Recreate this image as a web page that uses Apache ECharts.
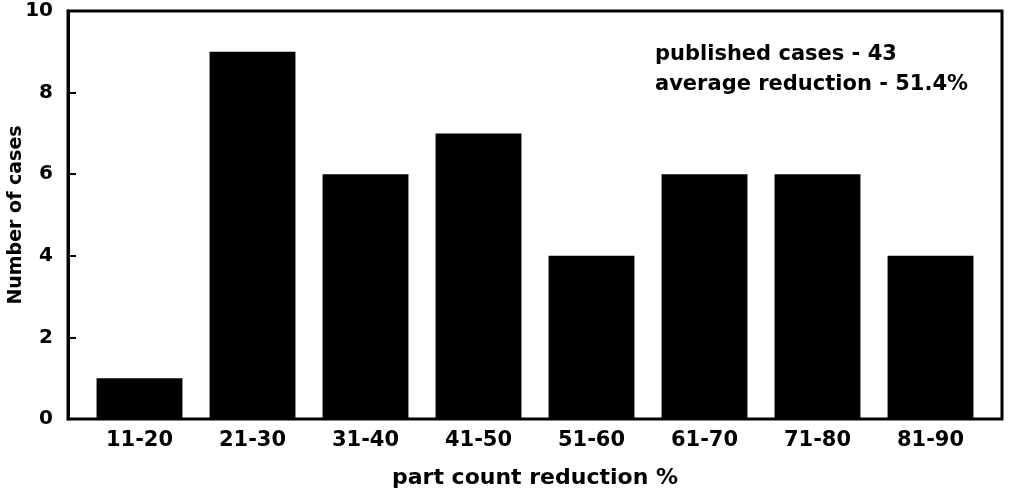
<!DOCTYPE html>
<html><head><meta charset="utf-8">
<script src="https://cdn.jsdelivr.net/npm/echarts@6/dist/echarts.min.js"></script>
<style>html,body{margin:0;padding:0;background:#fff}#c{width:1009px;height:498px}</style>
</head><body><div id="c"></div>
<script>
const categories = ['11-20','21-30','31-40','41-50','51-60','61-70','71-80','81-90'];
const cases = [1, 9, 6, 7, 4, 6, 6, 4];
const yTicks = [0, 2, 4, 6, 8, 10];
const noteLines = ['published cases - 43', 'average reduction - 51.4%'];

const font = '"DejaVu Sans", "Liberation Sans", Arial, sans-serif';
const chart = echarts.init(document.getElementById('c'));
chart.setOption({
  backgroundColor: '#fff',
  animation: false,
  grid: [
    {left: 68, right: 7, top: 11, bottom: 79, show: true, borderColor: '#000', borderWidth: 3,
     backgroundColor: 'transparent', containLabel: false, outerBoundsMode: 'none'},
    {left: 83, right: 22, top: 11, bottom: 79, containLabel: false, outerBoundsMode: 'none'}
  ],
  xAxis: [
    {gridIndex: 0, type: 'value', min: 0, max: 1, show: false},
    {gridIndex: 1, type: 'category', data: categories,
     name: 'part count reduction %', nameLocation: 'middle', nameGap: 48, nameMoveOverlap: false,
     nameTextStyle: {fontFamily: font, fontWeight: 'bold', fontSize: 22, color: '#000'},
     axisLine: {show: false}, axisTick: {show: false},
     axisLabel: {fontFamily: font, fontWeight: 'bold', fontSize: 21, color: '#000', margin: 11}}
  ],
  yAxis: [
    {gridIndex: 0, type: 'value', min: 0, max: 10, interval: 2,
     name: 'Number of cases', nameLocation: 'middle', nameGap: 42, nameMoveOverlap: false,
     nameTextStyle: {fontFamily: font, fontWeight: 'bold', fontSize: 19, color: '#000'},
     axisLine: {show: true, lineStyle: {color: '#000', width: 3}},
     axisTick: {show: true, inside: true, length: 8, lineStyle: {color: '#000', width: 2}},
     axisLabel: {fontFamily: font, fontWeight: 'bold', fontSize: 20, color: '#000', margin: 15,
       formatter: v => yTicks.includes(v) ? String(v) : ''},
     splitLine: {show: false}},
    {gridIndex: 1, type: 'value', min: 0, max: 10, interval: 2, show: false}
  ],
  series: [{
    type: 'bar', xAxisIndex: 1, yAxisIndex: 1, data: cases, barWidth: '76%',
    itemStyle: {color: '#000'}
  }],
  graphic: noteLines.map((t, i) => ({
    type: 'text', left: 655, top: 44 + i * 30,
    style: {text: t, fontFamily: font, fontWeight: 'bold', fontSize: 21, fill: '#000'}
  }))
});
</script></body></html>
